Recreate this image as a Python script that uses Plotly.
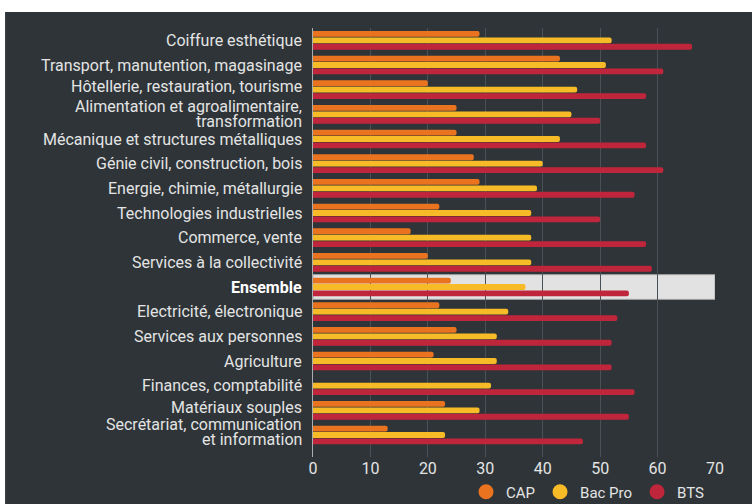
import plotly.graph_objects as go

categories = [
    "Coiffure esthétique",
    "Transport, manutention, magasinage",
    "Hôtellerie, restauration, tourisme",
    "Alimentation et agroalimentaire,<br>transformation",
    "Mécanique et structures métalliques",
    "Génie civil, construction, bois",
    "Energie, chimie, métallurgie",
    "Technologies industrielles",
    "Commerce, vente",
    "Services à la collectivité",
    "Ensemble",
    "Electricité, électronique",
    "Services aux personnes",
    "Agriculture",
    "Finances, comptabilité",
    "Matériaux souples",
    "Secrétariat, communication<br>et information",
]
cap = [29, 43, 20, 25, 25, 28, 29, 22, 17, 20, 24, 22, 25, 21, None, 23, 13]
bac_pro = [52, 51, 46, 45, 43, 40, 39, 38, 38, 38, 37, 34, 32, 32, 31, 29, 23]
bts = [66, 61, 58, 50, 58, 61, 56, 50, 58, 59, 55, 53, 52, 52, 56, 55, 47]
series_names = ["CAP", "Bac Pro", "BTS"]
x_ticks = [0, 10, 20, 30, 40, 50, 60, 70]
highlight = "Ensemble"

# styling
colors = ["#e9731f", "#f8bb28", "#c0263b"]
BG = "#2e3438"
TXT = "#e4e4e4"
FONT = "Roboto"
LINE_GAP = 7.5  # half spacing between lines of two-line labels (px)
label_nudge = {"Hôtellerie, restauration, tourisme": 3, "Matériaux souples": 3,
               "Secrétariat, communication<br>et information": 3}  # px upwards

fig = go.Figure()
for name, vals, col in zip(series_names, [cap, bac_pro, bts], colors):
    fig.add_trace(go.Bar(
        y=categories, x=vals, orientation="h", name=name,
        marker=dict(color=col, line=dict(width=0)),
        showlegend=False, hoverinfo="x+name",
    ))
for name, col in zip(series_names, colors):
    fig.add_trace(go.Scatter(
        x=[None], y=[None], mode="markers", name=name,
        marker=dict(color=col, size=15, symbol="circle"),
    ))

# category labels as annotations (tight line spacing for two-line labels)
annotations = []
for cat in categories:
    lines = cat.split("<br>")
    n = len(lines)
    for i, line in enumerate(lines):
        shift = (n - 1) * LINE_GAP - i * 2 * LINE_GAP + label_nudge.get(cat, 0)
        bold = cat == highlight
        annotations.append(dict(
            x=0, xref="paper", xanchor="right", xshift=-9,
            y=cat, yref="y", yanchor="middle", yshift=shift,
            text=f"<b>{line}</b>" if bold else line, showarrow=False, align="right",
            font=dict(family=FONT, size=16, color="#ffffff" if bold else TXT),
        ))

hi = categories.index(highlight)
shapes = [
    # white strips at the top and left edge of the picture
    dict(type="rect", xref="paper", yref="paper", x0=-1, x1=2, y0=1.0373, y1=1.3,
         fillcolor="#ffffff", line=dict(width=0), layer="above"),
    dict(type="rect", xref="paper", yref="paper", x0=-1, x1=-0.766, y0=-0.3, y1=1.3,
         fillcolor="#ffffff", line=dict(width=0), layer="above"),
    dict(type="rect", xref="x", yref="y", x0=0, x1=max(x_ticks), y0=hi - 0.5, y1=hi + 0.5,
         fillcolor="#e2e2e2", line=dict(color="#a8a8a8", width=1), layer="below"),
]

fig.update_layout(
    width=752, height=504,
    margin=dict(l=313, r=37, t=28, b=47, autoexpand=False),
    paper_bgcolor=BG, plot_bgcolor=BG,
    barmode="group", bargap=0.22, bargroupgap=0.1, barcornerradius=3,
    font=dict(family=FONT, color=TXT, size=16),
    shapes=shapes, annotations=annotations,
    legend=dict(orientation="h", x=0.9876, xanchor="right", y=-0.0816, yanchor="middle",
                font=dict(size=15, color=TXT), bgcolor="rgba(0,0,0,0)",
                itemwidth=30, tracegroupgap=0),
    xaxis=dict(range=[0, 70], tickvals=x_ticks, showgrid=True, gridcolor="#4a5156",
               gridwidth=1, zeroline=False, showline=False, tickfont=dict(size=16, color=TXT),
               fixedrange=True),
    yaxis=dict(autorange="reversed", showticklabels=False,
               showgrid=False, showline=True, linecolor="#a8adb0", linewidth=1,
               ticks="", fixedrange=True),
    showlegend=True,
)

fig.write_html("out.html", config={"displayModeBar": False},
               post_script="document.body.style.margin='0';document.body.style.overflow='hidden';")
